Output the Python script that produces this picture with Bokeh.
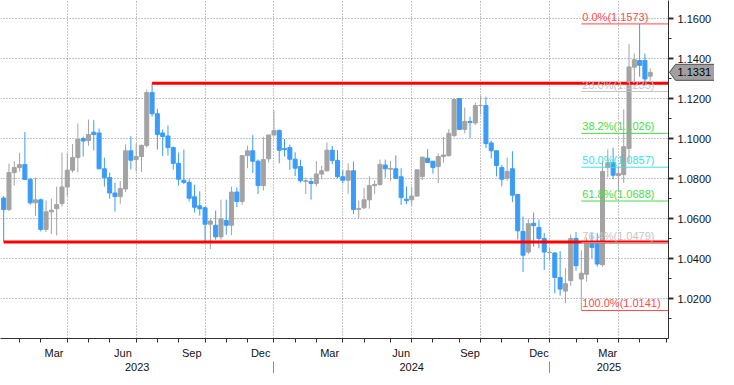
import numpy as np
import pandas as pd
from bokeh.plotting import figure
from bokeh.models import ColumnDataSource, FixedTicker, LinearAxis, NumeralTickFormatter
from bokeh.core.properties import value
from bokeh.embed import file_html
from bokeh.resources import INLINE

# ---------------- data (weekly EUR/USD candles, week starting Monday) ----------------
FIRST_WEEK = "2023-01-02"
opens = [1.0703, 1.0645, 1.0830, 1.0855, 1.0870, 1.0796, 1.0679, 1.0694, 1.0546, 1.0634,
         1.0650, 1.0675, 1.0758, 1.0842, 1.0905, 1.1000, 1.0990, 1.1032, 1.1028, 1.0849,
         1.0805, 1.0728, 1.0710, 1.0748, 1.0939, 1.0895, 1.0910, 1.0966, 1.1230, 1.1124,
         1.1028, 1.1013, 1.0955, 1.0876, 1.0792, 1.0781, 1.0709, 1.0664, 1.0654, 1.0572,
         1.0567, 1.0509, 1.0591, 1.0567, 1.0733, 1.0686, 1.0915, 1.0939, 1.0887, 1.0765,
         1.0899, 1.1018, 1.1041, 1.0950, 1.0955, 1.0897, 1.0860, 1.0785, 1.0785, 1.0776,
         1.0823, 1.0839, 1.0942, 1.0891, 1.0809, 1.0792, 1.0839, 1.0646, 1.0654, 1.0694,
         1.0765, 1.0771, 1.0868, 1.0847, 1.0849, 1.0809, 1.0697, 1.0694, 1.0713, 1.0810,
         1.0902, 1.0887, 1.0860, 1.0910, 1.0915, 1.1015, 1.1200, 1.1046, 1.1085, 1.1078,
         1.1165, 1.1165, 1.0978, 1.0939, 1.0855, 1.0801, 1.0849, 1.0721, 1.0536, 1.0433,
         1.0577, 1.0556, 1.0501, 1.0430, 1.0428, 1.0306, 1.0238, 1.0290, 1.0501, 1.0298,
         1.0322, 1.0475, 1.0475, 1.0370, 1.0856, 1.0880, 1.0815, 1.0820, 1.0951, 1.1357,
         1.1390, 1.1390, 1.1312]
highs = [1.0713, 1.0874, 1.0887, 1.0929, 1.1033, 1.0805, 1.0804, 1.0700, 1.0691, 1.0700,
         1.0760, 1.0930, 1.0926, 1.0973, 1.1075, 1.1010, 1.1095, 1.1092, 1.1050, 1.0905,
         1.0830, 1.0779, 1.0788, 1.0971, 1.1012, 1.0976, 1.0970, 1.1245, 1.1276, 1.1149,
         1.1045, 1.1065, 1.0960, 1.0930, 1.0945, 1.0800, 1.0769, 1.0737, 1.0660, 1.0600,
         1.0640, 1.0695, 1.0695, 1.0760, 1.0756, 1.0914, 1.0965, 1.1017, 1.0895, 1.1009,
         1.1014, 1.1140, 1.1045, 1.0998, 1.0970, 1.0932, 1.0895, 1.0805, 1.0805, 1.0888,
         1.0865, 1.0981, 1.0963, 1.0942, 1.0842, 1.0876, 1.0885, 1.0690, 1.0753, 1.0812,
         1.0791, 1.0895, 1.0895, 1.0889, 1.0916, 1.0852, 1.0761, 1.0760, 1.0843, 1.0910,
         1.0948, 1.0888, 1.0926, 1.1008, 1.1047, 1.1201, 1.1202, 1.1155, 1.1110, 1.1180,
         1.1214, 1.1209, 1.0990, 1.0941, 1.0869, 1.0905, 1.0937, 1.0721, 1.0610, 1.0597,
         1.0630, 1.0594, 1.0528, 1.0456, 1.0433, 1.0437, 1.0353, 1.0522, 1.0533, 1.0442,
         1.0505, 1.0527, 1.0528, 1.0888, 1.0947, 1.0954, 1.0860, 1.1146, 1.1473, 1.1425,
         1.1573, 1.1425, 1.1350]
lows = [1.0483, 1.0639, 1.0766, 1.0835, 1.0794, 1.0669, 1.0613, 1.0536, 1.0533, 1.0524,
        1.0516, 1.0660, 1.0713, 1.0830, 1.0831, 1.0910, 1.0964, 1.0941, 1.0850, 1.0760,
        1.0700, 1.0635, 1.0674, 1.0733, 1.0845, 1.0835, 1.0834, 1.0956, 1.1110, 1.0945,
        1.0912, 1.0915, 1.0845, 1.0765, 1.0772, 1.0686, 1.0631, 1.0615, 1.0488, 1.0448,
        1.0495, 1.0495, 1.0520, 1.0517, 1.0657, 1.0670, 1.0852, 1.0828, 1.0723, 1.0741,
        1.0880, 1.1010, 1.0877, 1.0910, 1.0844, 1.0813, 1.0780, 1.0723, 1.0695, 1.0761,
        1.0796, 1.0835, 1.0872, 1.0802, 1.0776, 1.0724, 1.0623, 1.0601, 1.0648, 1.0650,
        1.0724, 1.0764, 1.0805, 1.0789, 1.0800, 1.0668, 1.0672, 1.0666, 1.0710, 1.0792,
        1.0880, 1.0825, 1.0778, 1.0880, 1.0910, 1.1008, 1.1045, 1.1026, 1.1002, 1.1068,
        1.1120, 1.0953, 1.0900, 1.0811, 1.0761, 1.0789, 1.0683, 1.0496, 1.0333, 1.0423,
        1.0460, 1.0452, 1.0343, 1.0390, 1.0226, 1.0215, 1.0178, 1.0264, 1.0340, 1.0141,
        1.0285, 1.0401, 1.0360, 1.0360, 1.0806, 1.0797, 1.0732, 1.0778, 1.0880, 1.1265,
        1.1310, 1.1265, 1.1290]
closes = [1.0645, 1.0830, 1.0855, 1.0870, 1.0796, 1.0679, 1.0694, 1.0546, 1.0634, 1.0642,
          1.0670, 1.0758, 1.0842, 1.0905, 1.0995, 1.0988, 1.1020, 1.1020, 1.0849, 1.0805,
          1.0728, 1.0710, 1.0750, 1.0939, 1.0892, 1.0910, 1.0966, 1.1230, 1.1124, 1.1020,
          1.1010, 1.0955, 1.0876, 1.0797, 1.0781, 1.0702, 1.0657, 1.0649, 1.0572, 1.0588,
          1.0509, 1.0599, 1.0567, 1.0733, 1.0686, 1.0915, 1.0939, 1.0887, 1.0765, 1.0895,
          1.1018, 1.1041, 1.0942, 1.0945, 1.0897, 1.0852, 1.0789, 1.0789, 1.0776, 1.0823,
          1.0839, 1.0942, 1.0891, 1.0809, 1.0792, 1.0839, 1.0646, 1.0650, 1.0694, 1.0765,
          1.0771, 1.0871, 1.0849, 1.0851, 1.0801, 1.0705, 1.0690, 1.0713, 1.0844, 1.0907,
          1.0880, 1.0855, 1.0910, 1.0918, 1.1026, 1.1195, 1.1046, 1.1086, 1.1080, 1.1165,
          1.1166, 1.0975, 1.0939, 1.0865, 1.0797, 1.0836, 1.0717, 1.0539, 1.0417, 1.0575,
          1.0565, 1.0501, 1.0433, 1.0432, 1.0306, 1.0248, 1.0275, 1.0501, 1.0365, 1.0327,
          1.0480, 1.0456, 1.0373, 1.0836, 1.0880, 1.0817, 1.0825, 1.0959, 1.1358, 1.1394,
          1.1366, 1.1298, 1.1331]

price_ticks = [1.02, 1.04, 1.06, 1.08, 1.10, 1.12, 1.14, 1.16]
price_minor_ticks = [1.01, 1.02, 1.03, 1.04, 1.05, 1.06, 1.07, 1.08, 1.09,
                     1.10, 1.11, 1.12, 1.13, 1.14, 1.15, 1.16, 1.17]
month_labels = {3: "Mar", 6: "Jun", 9: "Sep", 12: "Dec"}

fib_ratios = [0.0, 0.236, 0.382, 0.5, 0.618, 0.764, 1.0]
fib_colors = ["#ff4a4a", "#c4c4c4", "#47dd47", "#3ce0e6", "#47dd47", "#c4c4c4", "#ff4a4a"]
fib_high = 1.1573
fib_low = 1.0141

sr_levels = [1.1276, 1.0483]
sr_start_weeks = ["2023-07-17", "2023-01-02"]

# ---------------- layout / style ----------------
FW, FH = 668, 338          # frame size in px
X0, X1 = -0.6, 125.45
Y0, Y1 = 1.0001, 1.1690
FONT = "Liberation Sans"
BLUE = "#3b9cf7"
GRAY = "#a3a3a3"
AXIS = "#303030"
GRID = "#8a8a8a"

n = len(opens)
weeks = pd.date_range(FIRST_WEEK, periods=n, freq="W-MON")
o, h, l, c = (np.array(a) for a in (opens, highs, lows, closes))
xs = np.arange(n)
colors = np.where(c >= o, GRAY, BLUE)
src = ColumnDataSource(dict(x=xs, top=np.maximum(o, c), bottom=np.minimum(o, c),
                            high=h, low=l, color=colors))

# calendar of week-ending Fridays (extended a few weeks for the axis)
cal = pd.date_range(FIRST_WEEK, periods=n + 8, freq="W-MON") + pd.Timedelta(days=4)
mk = np.asarray(cal.year * 12 + cal.month)
month_end = [i for i in range(len(cal) - 1) if mk[i] != mk[i + 1]]
quarter_end = [j for j in month_end if cal[j].month in (3, 6, 9, 12)]
year_end = [j for j in month_end if cal[j].month == 12]

m_ticks, m_over = [], {}
for k, j in enumerate(month_end):
    if k > 0 and cal[j].month in month_labels:
        pos = (month_end[k - 1] + j) / 2.0
        if X0 < pos < X1:
            m_ticks.append(pos)
            m_over[pos] = month_labels[cal[j].month]

bounds = [X0] + [j for j in year_end if X0 < j < X1] + [X1]
y_ticks, y_over = [], {}
for k in range(len(bounds) - 1):
    pos = round((bounds[k] + bounds[k + 1]) / 2.0, 2)
    y_ticks.append(pos)
    y_over[pos] = str(cal[0].year + k)

p = figure(frame_width=FW, frame_height=FH, x_range=(X0, X1), y_range=(Y0, Y1),
           output_backend="svg", toolbar_location=None, y_axis_location="right",
           min_border=0, min_border_left=0, min_border_right=0,
           min_border_top=0, min_border_bottom=0)
p.outline_line_color = None
p.background_fill_color = "white"
p.border_fill_color = "white"

# right price axis
ya = p.yaxis[0]
ya.ticker = FixedTicker(ticks=price_ticks, minor_ticks=price_minor_ticks)
ya.formatter = NumeralTickFormatter(format="0.0000")
ya.axis_line_color = AXIS
ya.major_tick_line_color = AXIS
ya.major_tick_line_width = 2
ya.major_tick_out = 5
ya.major_tick_in = 0
ya.minor_tick_line_color = AXIS
ya.minor_tick_out = 3
ya.minor_tick_in = 0
ya.major_label_standoff = 4
ya.major_label_text_font = FONT
ya.major_label_text_font_size = "11px"
ya.major_label_text_color = "#111111"

# bottom month axis
xa = p.xaxis[0]
xa.ticker = FixedTicker(ticks=m_ticks, minor_ticks=month_end)
xa.major_label_overrides = m_over
xa.axis_line_color = AXIS
xa.major_tick_line_color = None
xa.major_tick_out = 0
xa.major_tick_in = 0
xa.minor_tick_line_color = AXIS
xa.minor_tick_out = 4
xa.minor_tick_in = 0
xa.major_label_standoff = 4
xa.major_label_text_font = FONT
xa.major_label_text_font_size = "11px"
xa.major_label_text_color = "#111111"

# year axis (separators at year boundaries)
yr = LinearAxis(ticker=FixedTicker(ticks=y_ticks, minor_ticks=year_end),
                major_label_overrides=y_over)
yr.axis_line_color = None
yr.major_tick_line_color = None
yr.major_tick_out = 0
yr.major_tick_in = 0
yr.minor_tick_line_color = "#8c8c8c"
yr.minor_tick_out = 14
yr.minor_tick_in = 0
yr.major_label_standoff = -13
yr.major_label_text_font = FONT
yr.major_label_text_font_size = "11px"
yr.major_label_text_color = "#111111"
p.add_layout(yr, "below")

# grids
p.ygrid.ticker = FixedTicker(ticks=price_ticks)
p.xgrid.ticker = FixedTicker(ticks=quarter_end)
for g in (p.xgrid[0], p.ygrid[0]):
    g.grid_line_color = GRID
    g.grid_line_dash = "1 2"
    g.grid_line_width = 1

# candles
p.segment(x0="x", y0="low", x1="x", y1="high", line_color="color", line_width=1, source=src)
p.vbar(x="x", width=0.76, top="top", bottom="bottom", fill_color="color",
       line_color="color", line_width=1, source=src)

# support / resistance lines
for lvl, wk in zip(sr_levels, sr_start_weeks):
    i0 = weeks.get_loc(pd.Timestamp(wk))
    p.segment(x0=[i0], y0=[lvl], x1=[X1 + 1], y1=[lvl], line_color="#ff0000", line_width=3)

# Fibonacci retracement
fib_i = int(np.argmin(l))
fib_levels = [fib_high - r * (fib_high - fib_low) for r in fib_ratios]
fib_texts = [f"{r * 100:.1f}%({v:.4f})" for r, v in zip(fib_ratios, fib_levels)]
p.segment(x0=[fib_i] * len(fib_levels), y0=fib_levels, x1=[X1 + 1] * len(fib_levels),
          y1=fib_levels, line_color=fib_colors, line_width=1)
p.text(x=[fib_i] * len(fib_levels), y=fib_levels, text=fib_texts, text_color=fib_colors,
       text_font=value(FONT), text_font_size="11px", text_baseline="bottom",
       text_align="left", x_offset=1, y_offset=-1)

# last price tag on the right axis (drawn at annotation level, outside the frame)
last = closes[-1]
bx = (X1 - X0) / FW
by = (Y1 - Y0) / FH
p.patch(x=[X1 + 1 * bx, X1 + 7 * bx, X1 + 46 * bx, X1 + 46 * bx, X1 + 7 * bx],
        y=[last, last + 8 * by, last + 8 * by, last - 8 * by, last - 8 * by],
        fill_color="#a0a0a0", line_color="#505050", line_width=1, level="annotation")
p.text(x=[X1], y=[last], text=[f"{last:.4f}"], x_offset=9, text_baseline="middle",
       text_align="left", text_font=value(FONT), text_font_size="11px",
       text_color="#000000", level="annotation")

open("out.html", "w").write(file_html(p, INLINE))
